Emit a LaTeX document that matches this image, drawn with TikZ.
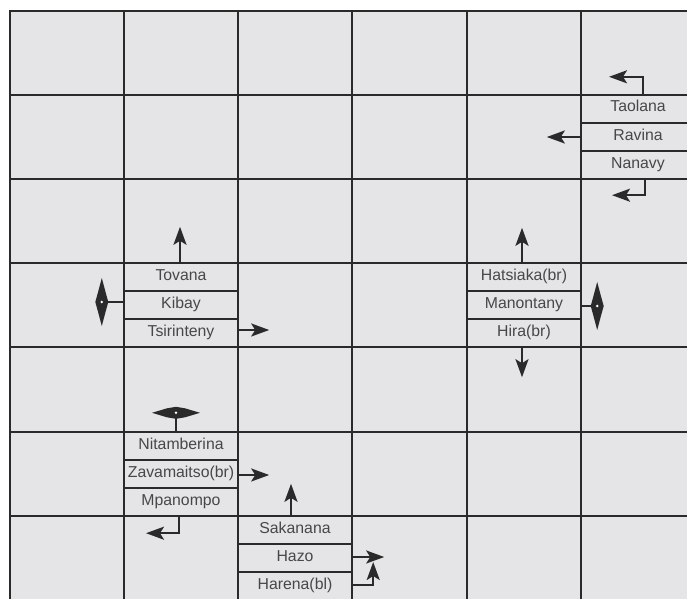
\documentclass[tikz,border=0pt]{standalone}
\usepackage{fontspec}
\setmainfont{Liberation Sans}
\usetikzlibrary{arrows.meta,calc}
\definecolor{cellbg}{HTML}{E5E5E7}
\definecolor{gridc}{HTML}{2A2A2A}
\definecolor{txt}{HTML}{474747}
\begin{document}
\begin{tikzpicture}[x=1pt,y=-1pt,
  lab/.style={minimum width=114pt, minimum height=28pt, inner sep=0pt,
    text height=17pt, text depth=11pt, font=\fontsize{15.8}{16}\selectfont, text=txt},
  arr/.style={line width=2.2pt, draw=gridc, -{Stealth[length=18pt,width=13pt,inset=4pt]}},
  conn/.style={line width=2.2pt, draw=gridc},
  gridline/.style={line width=2.4pt, draw=gridc},
  divider/.style={line width=2.2pt, draw=gridc},
  vdiam/.pic={\fill[gridc] (0,-24) -- (4,-9) -- (6.5,0) -- (4,9) -- (0,24) -- (-4,9) -- (-6.5,0) -- (-4,-9) -- cycle;
              \fill[white] (0,0) circle (1.4);},
  hdiam/.pic={\fill[gridc] (-24,0) -- (-9,-4.5) -- (0,-6) -- (9,-4.5) -- (24,0) -- (9,4.5) -- (0,6) -- (-9,4.5) -- cycle;
              \fill[white] (0,0) circle (1.4);}]
\useasboundingbox (0,0) rectangle (687,599);
\fill[white] (0,0) rectangle (687,599);
\fill[cellbg] (10,11) rectangle (687,599);
\foreach \x in {10,124,238,352,467,581} \draw[gridline] (\x,11) -- (\x,599);
\foreach \y in {11,95,179,263,347,432,516} \draw[gridline] (9,\y) -- (687,\y);

% cell top right
\node[lab] (taolana) at (638,109) {Taolana};
\node[lab] (ravina) at (638,137) {Ravina};
\node[lab] (nanavy) at (638,165) {Nanavy};
\draw[divider] (taolana.south west) -- (taolana.south east);
\draw[divider] (ravina.south west) -- (ravina.south east);

% cell Tovana
\node[lab] (tovana) at (181,277) {Tovana};
\node[lab] (kibay) at (181,305) {Kibay};
\node[lab] (tsirinteny) at (181,333) {Tsirinteny};
\draw[divider] (tovana.south west) -- (tovana.south east);
\draw[divider] (kibay.south west) -- (kibay.south east);

% cell Hatsiaka
\node[lab] (hatsiaka) at (524,277) {Hatsiaka(br)};
\node[lab] (manontany) at (524,305) {Manontany};
\node[lab] (hira) at (524,333) {Hira(br)};
\draw[divider] (hatsiaka.south west) -- (hatsiaka.south east);
\draw[divider] (manontany.south west) -- (manontany.south east);

% cell Nitamberina
\node[lab] (nitamberina) at (181,446) {Nitamberina};
\node[lab] (zavamaitso) at (181,474) {Zavamaitso(br)};
\node[lab] (mpanompo) at (181,502) {Mpanompo};
\draw[divider] (nitamberina.south west) -- (nitamberina.south east);
\draw[divider] (zavamaitso.south west) -- (zavamaitso.south east);

% cell Sakanana
\node[lab] (sakanana) at (295,530) {Sakanana};
\node[lab] (hazo) at (295,558) {Hazo};
\node[lab] (harena) at (295,586) {Harena(bl)};
\draw[divider] (sakanana.south west) -- (sakanana.south east);
\draw[divider] (hazo.south west) -- (hazo.south east);

% arrows
\draw[arr] ([xshift=5pt]taolana.north) -- ++(0,-18) -- ++(-34,0);
\draw[arr] ([yshift=0pt]ravina.west) -- ++(-34,0);
\draw[arr] ([xshift=7pt]nanavy.south) -- ++(0,16) -- ++(-33,0);

\draw[arr] ([xshift=-1pt]tovana.north) -- ++(0,-36);
\draw[conn] ([yshift=3pt]kibay.west) -- ++(-20,0) coordinate (kd);
\pic at ($(kd)+(-2,0)$) {vdiam};
\draw[arr] ([yshift=3pt]tsirinteny.east) -- ++(31,0);

\draw[arr] ([xshift=-2pt]hatsiaka.north) -- ++(0,-35);
\draw[conn] ([yshift=-1pt]manontany.east) -- ++(12,0) coordinate (md);
\pic at ($(md)+(4,0)$) {vdiam};
\draw[arr] ([xshift=-2pt]hira.south) -- ++(0,30);

\draw[conn] ([xshift=-5pt]nitamberina.north) -- ++(0,-19) coordinate (nd);
\pic at (nd) {hdiam};
\draw[arr] ([yshift=-1pt]zavamaitso.east) -- ++(31,0);
\draw[arr] ([xshift=-2pt]mpanompo.south) -- ++(0,17) -- ++(-33,0);

\draw[arr] ([xshift=-4pt]sakanana.north) -- ++(0,-32);
\draw[arr] ([yshift=1pt]hazo.east) -- ++(32,0);
\draw[arr] ([yshift=1pt]harena.east) -- ++(21,0) -- ++(0,-23);
\end{tikzpicture}
\end{document}
